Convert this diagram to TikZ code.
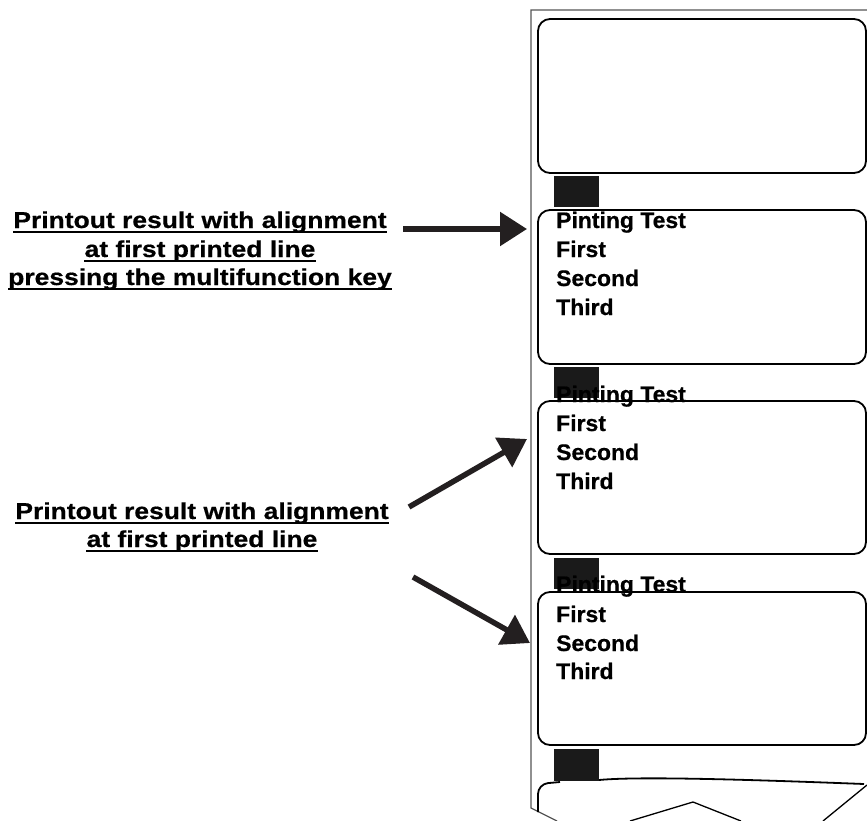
\documentclass[tikz,border=0pt]{standalone}
\usepackage{fontspec}
\setmainfont{Liberation Sans}
\newfontfamily\labfont{Liberation Sans}[FakeStretch=1.15, FakeBold=0.6]
\newfontfamily\boxfont{Liberation Sans}[FakeStretch=1.02, FakeBold=0.6]
\usetikzlibrary{arrows.meta}
\definecolor{ink}{HTML}{1A1A1A}
\definecolor{arrowink}{HTML}{231F20}
\definecolor{paper}{HTML}{555555}
\tikzset{
  boxtext/.style={anchor=base west, inner sep=0pt, font=\boxfont\fontsize{22.5}{26}\selectfont\bfseries},
  labtext/.style={anchor=base, inner sep=0pt, font=\labfont\fontsize{23}{26}\selectfont\bfseries},
  uline/.style={line width=1.8pt, black},
  labelbox/.style={draw=black, line width=1.8pt, rounded corners=12pt},
  marker/.style={fill=ink, draw=none},
  bigarrow/.style={draw=arrowink, line width=5.5pt, -{Triangle[length=27pt,width=33pt]}},
  paperline/.style={draw=paper, line width=1.2pt}
}
\begin{document}
\begin{tikzpicture}[x=1pt,y=-1pt]
\useasboundingbox (0,0) rectangle (867,821);
% paper strip
\draw[paperline] (867,10) -- (531,10) -- (531,808) -- (557,821);
% label boxes
\draw[labelbox] (538,19) rectangle (866,173);
\draw[labelbox] (538,210) rectangle (866,364);
\draw[labelbox] (538,401) rectangle (866,554);
\draw[labelbox] (538,592) rectangle (866,745);
% last (torn) box
\draw[black, line width=1.8pt] (599,780) .. controls (640,776) and (760,780) .. (864,784);
\draw[black, line width=1.8pt, rounded corners=10pt] (560,782) -- (538,784) -- (538,812);
\draw[black, line width=1.3pt] (867,785) -- (823,821);
\draw[black, line width=1.3pt] (630,821) -- (693,802) -- (741,821);
% black markers
\fill[marker] (554,176) rectangle (599,207);
\fill[marker] (554,367) rectangle (599,398);
\fill[marker] (554,558) rectangle (599,589);
\fill[marker] (554,749) rectangle (599,781);
% box texts
\node[boxtext] (b2a) at (556,228) {Pinting Test};
\node[boxtext] (b2b) at (556,257) {First};
\node[boxtext] (b2c) at (556,286) {Second};
\node[boxtext] (b2d) at (556,315) {Third};
\node[boxtext] (b3a) at (556,402) {Pinting Test};
\node[boxtext] (b3b) at (556,431) {First};
\node[boxtext] (b3c) at (556,460) {Second};
\node[boxtext] (b3d) at (556,489) {Third};
\node[boxtext] (b4a) at (556,592) {Pinting Test};
\node[boxtext] (b4b) at (556,622) {First};
\node[boxtext] (b4c) at (556,651) {Second};
\node[boxtext] (b4d) at (556,679) {Third};
% left labels
\node[labtext] (l1a) at (200,228) {Printout result with alignment};
\node[labtext] (l1b) at (200,257) {at first printed line};
\node[labtext] (l1c) at (200,285) {pressing the multifunction key};
\node[labtext] (l2a) at (202,519) {Printout result with alignment};
\node[labtext] (l2b) at (202,547) {at first printed line};
\foreach \n in {l1a,l1b,l1c,l2a,l2b}{
  \draw[uline] ([yshift=-4pt]\n.base west) -- ([yshift=-4pt]\n.base east);
}
% arrows
\coordinate (a1s) at (403,229);
\coordinate (a1e) at (527,229);
\coordinate (a2s) at (409,507);
\coordinate (a2e) at (527,439);
\coordinate (a3s) at (413,577);
\coordinate (a3e) at (530,643);
\draw[bigarrow] (a1s) -- (a1e);
\draw[bigarrow] (a2s) -- (a2e);
\draw[bigarrow] (a3s) -- (a3e);
\end{tikzpicture}
\end{document}
